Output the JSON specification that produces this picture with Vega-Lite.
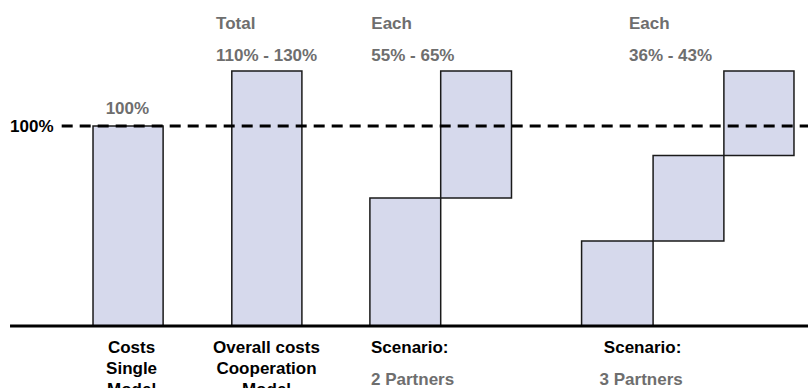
{
  "$schema": "https://vega.github.io/schema/vega-lite/v6.json",
  "width": 808,
  "height": 388,
  "padding": 0,
  "autosize": {"type": "none"},
  "background": "white",
  "config": {"view": {"stroke": null}, "font": "Liberation Sans"},
  "datasets": {
    "bars": [
      {"bar": "Costs Single Model", "x0": 0, "x1": 1, "y0": 0, "y1": 100},
      {"bar": "Overall costs Cooperation Model", "x0": 1.98, "x1": 2.98, "y0": 0, "y1": 127.5},
      {"bar": "2 Partners A", "x0": 3.95, "x1": 4.96, "y0": 0, "y1": 64},
      {"bar": "2 Partners B", "x0": 4.96, "x1": 5.97, "y0": 64, "y1": 127.5},
      {"bar": "3 Partners A", "x0": 6.97, "x1": 7.99, "y0": 0, "y1": 42.5},
      {"bar": "3 Partners B", "x0": 7.99, "x1": 9.0, "y0": 42.5, "y1": 85.3},
      {"bar": "3 Partners C", "x0": 9.0, "x1": 10.0, "y0": 85.3, "y1": 127.5}
    ],
    "lines": [
      {"line": "reference 100%", "from": -0.447, "to": 10.2, "level": 100},
      {"line": "baseline", "from": -1.184, "to": 10.2, "level": 0}
    ],
    "labels": [
      {"label": "Total", "u": 1.755, "v": 148.4, "kind": "header", "pos": "left"},
      {"label": "110% - 130%", "u": 1.755, "v": 132.5, "kind": "header", "pos": "left"},
      {"label": "Each", "u": 3.97, "v": 148.4, "kind": "header", "pos": "left"},
      {"label": "55% - 65%", "u": 3.97, "v": 132.5, "kind": "header", "pos": "left"},
      {"label": "Each", "u": 7.646, "v": 148.4, "kind": "header", "pos": "left"},
      {"label": "36% - 43%", "u": 7.646, "v": 132.5, "kind": "header", "pos": "left"},
      {"label": "100%", "u": 0.49, "v": 105.9, "kind": "header", "pos": "center"},
      {"label": "2 Partners", "u": 3.966, "v": -29.5, "kind": "header", "pos": "left"},
      {"label": "3 Partners", "u": 7.82, "v": -29.5, "kind": "header", "pos": "center"},
      {"label": "100%", "u": -1.184, "v": 97.2, "kind": "label", "pos": "left"},
      {"label": "Costs\nSingle\nModel", "u": 0.55, "v": -13.3, "kind": "label", "pos": "center"},
      {"label": "Overall costs\nCooperation\nModel", "u": 2.475, "v": -13.3, "kind": "label", "pos": "center"},
      {"label": "Scenario:", "u": 3.966, "v": -13.3, "kind": "label", "pos": "left"},
      {"label": "Scenario:", "u": 7.84, "v": -13.3, "kind": "label", "pos": "center"}
    ]
  },
  "layer": [
    {
      "data": {"name": "bars"},
      "mark": {"type": "rect", "fill": "#d6d9ec", "stroke": "#1a1a1a", "strokeWidth": 1.5},
      "encoding": {
        "x": {"field": "x0", "type": "quantitative", "scale": {"domain": [-1.327, 10.2], "nice": false, "zero": false}, "axis": null},
        "x2": {"field": "x1"},
        "y": {"field": "y0", "type": "quantitative", "scale": {"domain": [-31, 163], "nice": false, "zero": false}, "axis": null},
        "y2": {"field": "y1"}
      }
    },
    {
      "data": {"name": "lines"},
      "transform": [{"filter": "datum.level === 100"}],
      "mark": {"type": "rule", "stroke": "black", "strokeWidth": 3, "strokeDash": [11, 7]},
      "encoding": {
        "x": {"field": "from", "type": "quantitative", "scale": {"domain": [-1.327, 10.2], "nice": false, "zero": false}, "axis": null},
        "x2": {"field": "to"},
        "y": {"field": "level", "type": "quantitative", "scale": {"domain": [-31, 163], "nice": false, "zero": false}, "axis": null}
      }
    },
    {
      "data": {"name": "lines"},
      "transform": [{"filter": "datum.level === 0"}],
      "mark": {"type": "rule", "stroke": "black", "strokeWidth": 3},
      "encoding": {
        "x": {"field": "from", "type": "quantitative", "scale": {"domain": [-1.327, 10.2], "nice": false, "zero": false}, "axis": null},
        "x2": {"field": "to"},
        "y": {"field": "level", "type": "quantitative", "scale": {"domain": [-31, 163], "nice": false, "zero": false}, "axis": null}
      }
    },
    {
      "data": {"name": "labels"},
      "transform": [{"filter": "datum.pos === 'left'"}],
      "mark": {"type": "text", "align": "left", "baseline": "alphabetic", "fontSize": 17, "fontWeight": "bold", "lineBreak": "\n", "lineHeight": 21},
      "encoding": {
        "x": {"field": "u", "type": "quantitative", "scale": {"domain": [-1.327, 10.2], "nice": false, "zero": false}, "axis": null},
        "y": {"field": "v", "type": "quantitative", "scale": {"domain": [-31, 163], "nice": false, "zero": false}, "axis": null},
        "text": {"field": "label"},
        "color": {"field": "kind", "type": "nominal", "scale": {"domain": ["header", "label"], "range": ["#6e6e6e", "#000000"]}, "legend": null}
      }
    },
    {
      "data": {"name": "labels"},
      "transform": [{"filter": "datum.pos === 'center'"}],
      "mark": {"type": "text", "align": "center", "baseline": "alphabetic", "fontSize": 17, "fontWeight": "bold", "lineBreak": "\n", "lineHeight": 21},
      "encoding": {
        "x": {"field": "u", "type": "quantitative", "scale": {"domain": [-1.327, 10.2], "nice": false, "zero": false}, "axis": null},
        "y": {"field": "v", "type": "quantitative", "scale": {"domain": [-31, 163], "nice": false, "zero": false}, "axis": null},
        "text": {"field": "label"},
        "color": {"field": "kind", "type": "nominal", "scale": {"domain": ["header", "label"], "range": ["#6e6e6e", "#000000"]}, "legend": null}
      }
    }
  ]
}
